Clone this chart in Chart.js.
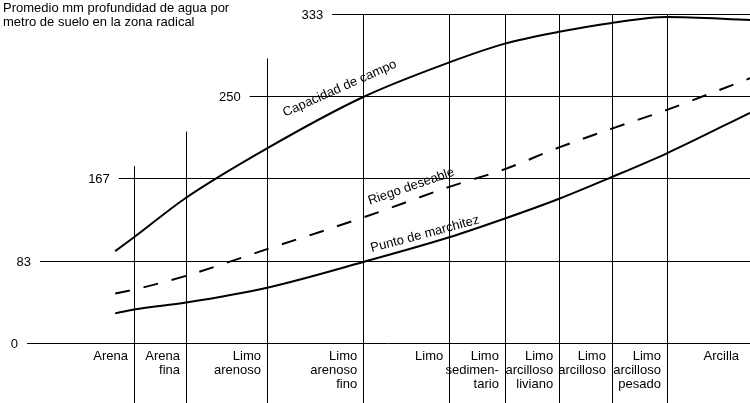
<!DOCTYPE html>
<html>
<head>
<meta charset="utf-8">
<script src="https://cdn.jsdelivr.net/npm/chart.js@4.4.1/dist/chart.umd.min.js"></script>
<style>
  body { margin: 0; background: #fff; }
  #wrap { width: 750px; height: 403px; position: relative; }
</style>
</head>
<body>
<div id="wrap"><canvas id="soilChart"></canvas></div>
<script>
// soil texture axis runs 0..100 (sand -> clay)
const xPos = [12.2, 14.8, 22.0, 33.2, 46.5, 58.4, 66.1, 73.6, 80.9, 88.5, 100];
const capacidadCampo = [93, 107, 147, 197, 249, 284, 303, 315, 324, 330, 327];
const riegoDeseable = [50, 54, 68, 95, 127, 158, 176, 198, 217, 236, 268];
const puntoMarchitez = [30, 34, 41, 56, 82, 107, 126, 146, 168, 192, 233];

const yTicks = [0, 83, 167, 250, 333];
const categories = [
    ['Arena'], ['Arena', 'fina'], ['Limo', 'arenoso'], ['Limo', 'arenoso', 'fino'],
    ['Limo'], ['Limo', 'sedimen-', 'tario'], ['Limo', 'arcilloso', 'liviano'],
    ['Limo', 'arcilloso'], ['Limo', 'arcilloso', 'pesado'], ['Arcilla']
];
const categoryEnds = [14.8, 22.0, 33.2, 46.5, 58.4, 66.1, 73.6, 80.9, 88.5, 100];
const title = ['Promedio mm profundidad de agua por', 'metro de suelo en la zona radical'];

const FONT = '13px "Liberation Sans", Arial, sans-serif';

function toPoints(values) {
    return values.map((v, i) => ({ x: xPos[i], y: v }));
}

// staggered grid: where each horizontal line starts, how high each divider goes
const gridStarts = [0, 1.8, 12.7, 30.8, 42.2];
const dividerTops = [179, 214, 288, 333, 333, 333, 333, 333, 333];

const curveLabels = [
    { text: 'Capacidad de campo', x: 35.7, y: 229, angle: -24 },
    { text: 'Riego deseable', x: 47.4, y: 140, angle: -19 },
    { text: 'Punto de marchitez', x: 47.7, y: 92, angle: -15 }
];

const gridPlugin = {
    id: 'soilGrid',
    beforeDatasetsDraw(chart) {
        const { ctx, scales: { x, y }, chartArea } = chart;
        ctx.save();
        ctx.strokeStyle = '#000';
        ctx.lineWidth = 1;
        ctx.beginPath();
        yTicks.forEach((t, i) => {
            const py = Math.round(y.getPixelForValue(t)) + 0.5;
            ctx.moveTo(x.getPixelForValue(gridStarts[i]), py);
            ctx.lineTo(chartArea.right, py);
        });
        categoryEnds.slice(0, -1).forEach((c, i) => {
            const px = Math.round(x.getPixelForValue(c)) + 0.5;
            ctx.moveTo(px, y.getPixelForValue(dividerTops[i]));
            ctx.lineTo(px, chart.height);
        });
        ctx.stroke();
        ctx.restore();
    },
    afterDraw(chart) {
        const { ctx, scales: { x, y } } = chart;
        ctx.save();
        ctx.fillStyle = '#000';
        ctx.font = FONT;

        // title
        ctx.textAlign = 'left';
        ctx.textBaseline = 'alphabetic';
        title.forEach((line, i) => ctx.fillText(line, 3, 12 + i * 14));

        // y tick labels
        ctx.textAlign = 'right';
        ctx.textBaseline = 'middle';
        yTicks.forEach((t, i) => {
            ctx.fillText(String(t), x.getPixelForValue(gridStarts[i]) - 9, y.getPixelForValue(t) + 1);
        });

        // category labels
        ctx.textBaseline = 'alphabetic';
        const base = y.getPixelForValue(0);
        categories.forEach((lines, i) => {
            const right = x.getPixelForValue(categoryEnds[i]) - (i === categories.length - 1 ? 11 : 6);
            lines.forEach((l, j) => ctx.fillText(l, right, base + 17 + j * 14));
        });

        // curve labels
        ctx.textAlign = 'left';
        curveLabels.forEach(lbl => {
            ctx.save();
            ctx.translate(x.getPixelForValue(lbl.x), y.getPixelForValue(lbl.y));
            ctx.rotate(lbl.angle * Math.PI / 180);
            ctx.fillText(lbl.text, 0, 0);
            ctx.restore();
        });
        ctx.restore();
    }
};

const lineStyle = {
    borderColor: '#000',
    borderWidth: 2,
    pointRadius: 0,
    cubicInterpolationMode: 'monotone',
    fill: false
};

new Chart(document.getElementById('soilChart'), {
    type: 'line',
    data: {
        datasets: [
            Object.assign({ label: 'Capacidad de campo', data: toPoints(capacidadCampo) }, lineStyle),
            Object.assign({ label: 'Riego deseable', data: toPoints(riegoDeseable), borderDash: [15, 14] }, lineStyle),
            Object.assign({ label: 'Punto de marchitez', data: toPoints(puntoMarchitez) }, lineStyle)
        ]
    },
    options: {
        responsive: true,
        maintainAspectRatio: false,
        animation: false,
        layout: { padding: { left: 27, right: 0, top: 14, bottom: 60 } },
        plugins: { legend: { display: false }, tooltip: { enabled: false } },
        scales: {
            x: { type: 'linear', min: 0, max: 100, display: false },
            y: { min: 0, max: 333, display: false }
        }
    },
    plugins: [gridPlugin]
});
</script>
</body>
</html>
